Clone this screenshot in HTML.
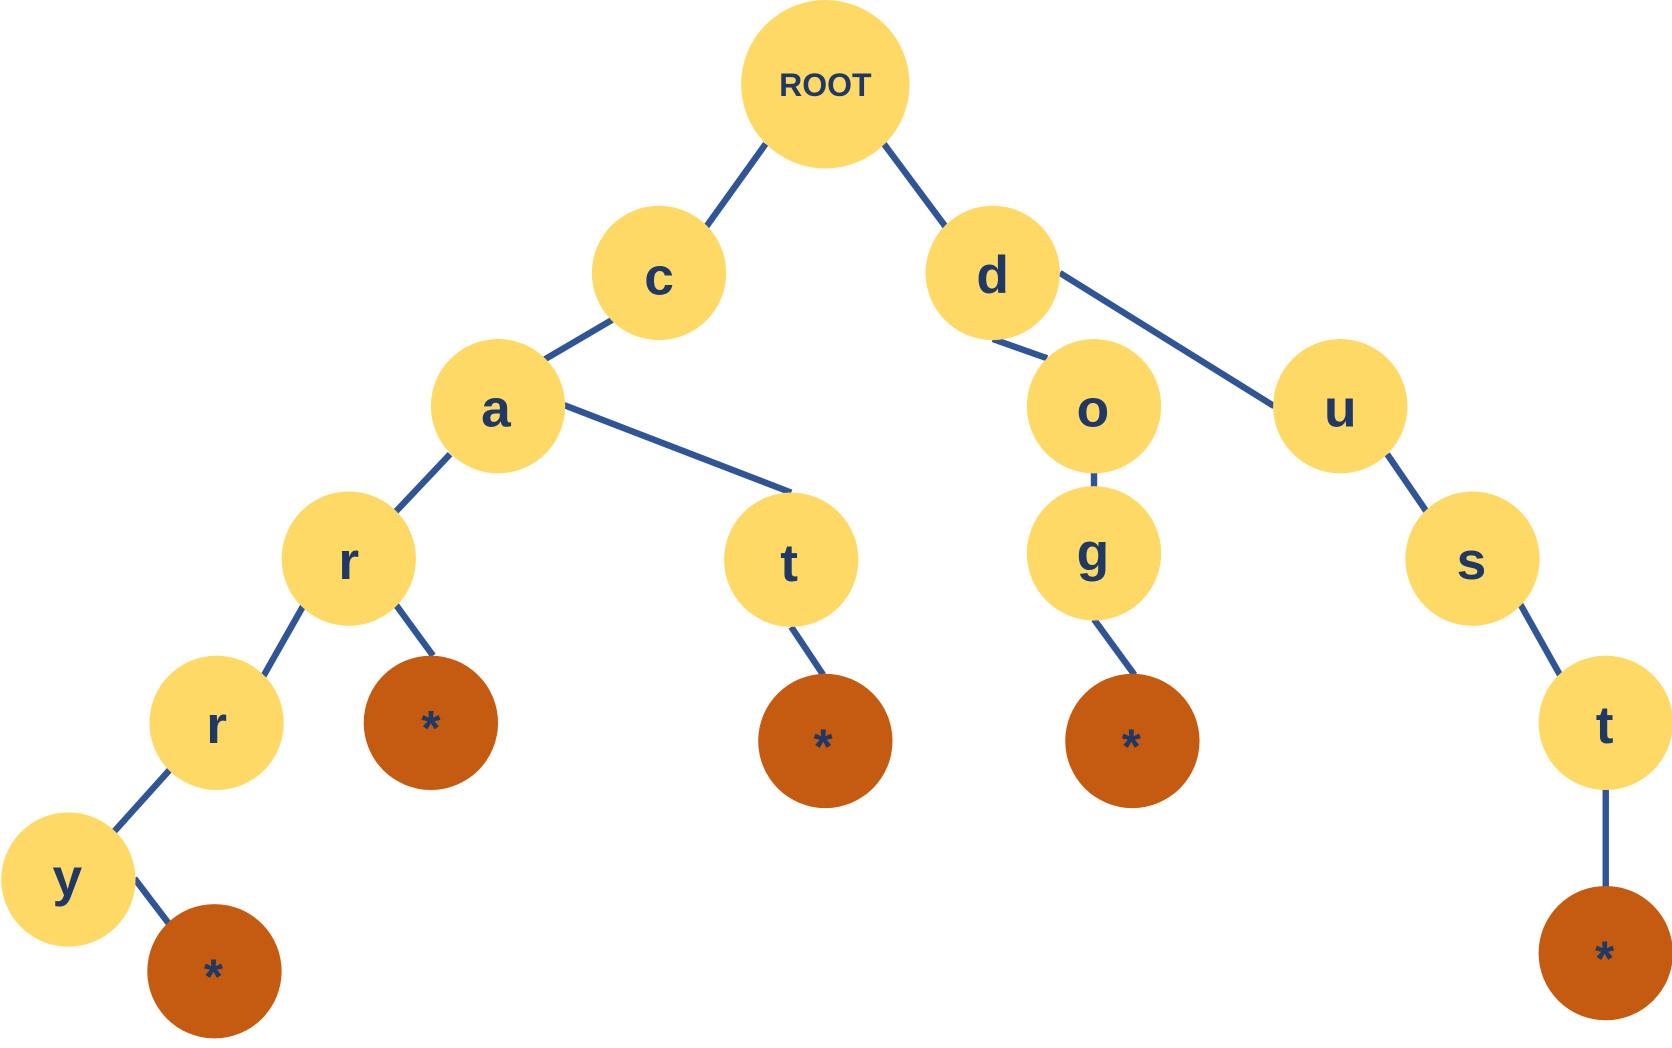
<!DOCTYPE html>
<html><head><style>html,body{margin:0;padding:0;background:#fff;}svg{display:block}</style></head>
<body>
<svg width="1672" height="1048" viewBox="0 0 1568 983" xmlns="http://www.w3.org/2000/svg">
<g stroke="#2F5597" stroke-width="6">
<line x1="718" y1="135" x2="662" y2="213"/>
<line x1="829" y1="135" x2="887" y2="213"/>
<line x1="574" y1="300" x2="511" y2="337"/>
<line x1="931" y1="318" x2="982" y2="336"/>
<line x1="994" y1="256" x2="1195" y2="381"/>
<line x1="422" y1="426" x2="371" y2="480"/>
<line x1="529" y1="380" x2="742" y2="462"/>
<line x1="1026" y1="440" x2="1026" y2="459"/>
<line x1="1301" y1="426" x2="1338" y2="480"/>
<line x1="285" y1="567" x2="247" y2="634"/>
<line x1="371" y1="567" x2="406" y2="615"/>
<line x1="742" y1="588" x2="772" y2="633"/>
<line x1="1026" y1="581" x2="1064" y2="633"/>
<line x1="1426" y1="567" x2="1463" y2="633"/>
<line x1="160" y1="721" x2="106" y2="781"/>
<line x1="126" y1="824" x2="158" y2="866"/>
<line x1="1506" y1="740" x2="1506" y2="832"/>
</g>
<g fill="#FFD966">
<circle cx="774" cy="79" r="79"/>
<circle cx="618" cy="256" r="63"/>
<circle cx="931" cy="256" r="63"/>
<circle cx="467" cy="381" r="63"/>
<circle cx="1026" cy="381" r="63"/>
<circle cx="1257" cy="381" r="63"/>
<circle cx="327" cy="524" r="63"/>
<circle cx="742" cy="525" r="63"/>
<circle cx="1026" cy="519" r="63"/>
<circle cx="1381" cy="524" r="63"/>
<circle cx="203" cy="678" r="63"/>
<circle cx="1506" cy="678" r="63"/>
<circle cx="64" cy="825" r="63"/>
</g>
<g fill="#C55A11">
<circle cx="404" cy="678" r="63"/>
<circle cx="774" cy="695" r="63"/>
<circle cx="1062" cy="695" r="63"/>
<circle cx="201" cy="911" r="63"/>
<circle cx="1506" cy="894" r="63"/>
</g>
<g fill="#203864" font-family="Liberation Sans, sans-serif" font-weight="bold" text-anchor="middle">
<text x="774" y="90" font-size="30">ROOT</text>
<g font-size="50">
<text x="618" y="276">c</text>
<text x="931" y="275">d</text>
<text x="465" y="400">a</text>
<text x="1025" y="400">o</text>
<text x="1257" y="400">u</text>
<text x="327" y="543">r</text>
<text x="740" y="545">t</text>
<text x="1025" y="535">g</text>
<text x="1380" y="543">s</text>
<text x="203" y="697">r</text>
<text x="1505" y="697">t</text>
<text x="63" y="840">y</text>
</g>
<g font-size="46">
<text x="404" y="699">*</text>
<text x="772" y="716">*</text>
<text x="1061" y="716">*</text>
<text x="200" y="932">*</text>
<text x="1505" y="915">*</text>
</g>
</g>
</svg>
</body></html>
